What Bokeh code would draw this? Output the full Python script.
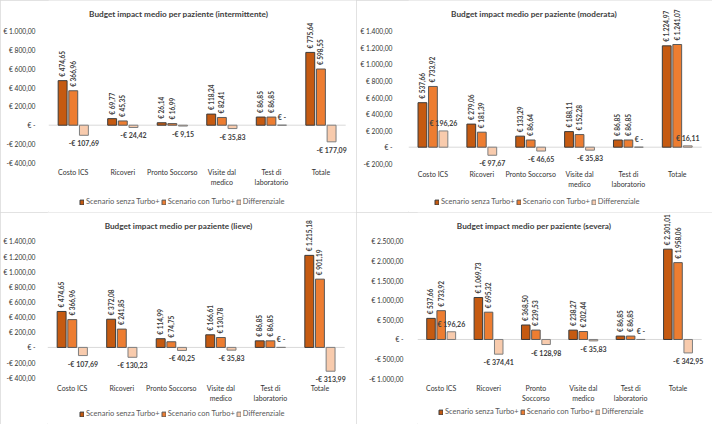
import math
from bokeh.plotting import figure
from bokeh.models import ColumnDataSource, FixedTicker, Range1d, Label, Legend, LegendItem
from bokeh.layouts import column, row
from bokeh.embed import file_html
from bokeh.resources import INLINE
from bokeh.core.properties import value
from bokeh.transform import dodge

# ---------------- data ----------------
categories = ["Costo ICS", "Ricoveri", "Pronto Soccorso", "Visite dal medico",
              "Test di laboratorio", "Totale"]
tick_labels_a = ["Costo ICS", "Ricoveri", "Pronto Soccorso", "Visite dal\nmedico",
                 "Test di\nlaboratorio", "Totale"]
tick_labels_b = ["Costo ICS", "Ricoveri", "Pronto\nSoccorso", "Visite dal\nmedico",
                 "Test di\nlaboratorio", "Totale"]
series_names = ["Scenario senza Turbo+", "Scenario con Turbo+", "Differenziale"]

intermittente_senza = [474.65, 69.77, 26.14, 118.24, 86.85, 775.64]
intermittente_con = [366.96, 45.35, 16.99, 82.41, 86.85, 598.55]
intermittente_diff = [-107.69, -24.42, -9.15, -35.83, 0.0, -177.09]

moderata_senza = [537.66, 279.06, 133.29, 188.11, 86.85, 1224.97]
moderata_con = [733.92, 181.39, 86.64, 152.28, 86.85, 1241.07]
moderata_diff = [196.26, -97.67, -46.65, -35.83, 0.0, 16.11]

lieve_senza = [474.65, 372.08, 114.99, 166.61, 86.85, 1215.18]
lieve_con = [366.96, 241.85, 74.75, 130.78, 86.85, 901.19]
lieve_diff = [-107.69, -130.23, -40.25, -35.83, 0.0, -313.99]

severa_senza = [537.66, 1069.73, 368.50, 238.27, 86.85, 2301.01]
severa_con = [733.92, 695.32, 239.53, 202.44, 86.85, 1958.06]
severa_diff = [196.26, -374.41, -128.98, -35.83, 0.0, -342.95]

titles = ["Budget impact medio per paziente (intermittente)",
          "Budget impact medio per paziente (moderata)",
          "Budget impact medio per paziente (lieve)",
          "Budget impact medio per paziente (severa)"]

# ---------------- style ----------------
COLORS = ["#C55A11", "#ED7D31", "#F8CBAD"]
LINES = ["#3b3b3b", "#5a5a5a", "#7f7f7f"]
FONT = "Lato"
W, H = 356, 212
SX, SY = W / 357.0, H / 213.0
BW, OFF = 0.18, 0.215


def eur(v):
    if abs(v) < 0.005:
        return "€ -"
    s = f"{abs(v):,.2f}".replace(",", "X").replace(".", ",").replace("X", ".")
    return ("-€ " if v < 0 else "€ ") + s


def make_panel(title, senza, con, diff, xlabels, ymin, ymax, ystep,
               ref_left, ref_right, ref_top, ref_bottom, ref_cat, ystand, leg_left, leg_y):
    L = round(ref_left * SX)
    pxcat = (ref_right - ref_left) * SX / 6.0
    top_px = ref_top * SY
    ymin_px = ref_bottom * SY
    pxunit = (ymin_px - top_px) / float(ymax - ymin)
    y_end = ymax + top_px / pxunit
    y_start = y_end - H / pxunit
    x_end = (W - L) / pxcat

    def ypix(py):  # pixel from panel top -> data value
        return y_end - py / pxunit

    p = figure(width=W, height=H, x_range=Range1d(0, x_end), y_range=Range1d(y_start, y_end),
               output_backend="svg", toolbar_location=None,
               min_border_left=L, min_border_right=0, min_border_top=0, min_border_bottom=0)
    p.grid.visible = False
    p.xaxis.visible = False
    p.outline_line_color = None
    p.background_fill_color = "white"
    p.border_fill_color = "white"
    p.styles = {"outline": "1px solid #d9d9d9", "outline-offset": "-1px"}

    ticks = list(range(ymin, ymax + 1, ystep))
    ya = p.yaxis[0]
    ya.ticker = FixedTicker(ticks=ticks)
    ya.major_label_overrides = {t: eur(t) for t in ticks}
    ya.axis_line_color = None
    ya.major_tick_line_color = None
    ya.minor_tick_line_color = None
    ya.major_label_standoff = ystand
    ya.major_label_text_font = FONT
    ya.major_label_text_font_size = "6.7px"
    ya.major_label_text_color = "#333333"

    xs = [i + 0.5 for i in range(len(categories))]
    src = ColumnDataSource(dict(
        x=xs, senza=senza, con=con, diff=diff,
        senza_lbl=[eur(v) for v in senza],
        con_lbl=[eur(v) for v in con],
        diff_up=[eur(v) if v >= 0 else "" for v in diff],
        diff_dn=[eur(v) if v < 0 else "" for v in diff],
        cat=xlabels,
        cat_y=[ypix(ref_cat * SY - 3.8)] * len(xs),
    ))

    # category axis line at zero
    p.segment(x0=[0], x1=[len(categories)], y0=[0], y1=[0], line_color="#d9d9d9", line_width=1)

    rends = []
    for k, (col, off) in enumerate([("senza", -OFF), ("con", 0.0), ("diff", OFF)]):
        r = p.vbar(x=dodge("x", off), top=col, bottom=0, width=BW, source=src,
                   fill_color=COLORS[k], line_color=LINES[k], line_width=1)
        rends.append(r)

    rot = dict(source=src, text_font=value(FONT), text_font_size="6.5px",
               text_font_style="bold", text_color="#404040", angle=math.pi / 2,
               text_align="left", text_baseline="middle", y_offset=-4)
    p.text(x=dodge("x", -OFF), y="senza", text="senza_lbl", **rot)
    p.text(x=dodge("x", 0.0), y="con", text="con_lbl", **rot)
    hor = dict(source=src, text_font=value(FONT), text_font_size="7px",
               text_font_style="bold", text_color="#404040", text_align="center")
    p.text(x=dodge("x", OFF), y="diff", text="diff_up", text_baseline="bottom",
           y_offset=-4, **hor)
    p.text(x=dodge("x", OFF), y="diff", text="diff_dn", text_baseline="top",
           y_offset=4, **hor)

    # category labels
    p.text(x="x", y="cat_y", text="cat", source=src, text_font=value(FONT),
           text_font_size="7px", text_color="#333333", text_align="center",
           text_baseline="top", text_line_height=1.25)

    p.add_layout(Label(x=(178 * SX - L) / pxcat, y=ypix(14 * SY), text=title,
                       text_align="center", text_baseline="middle", text_font=FONT,
                       text_font_size="8.2px", text_font_style="bold", text_color="#404040"))

    items = [LegendItem(label=n, renderers=[r]) for n, r in zip(series_names, rends)]
    leg_bottom = leg_y * SY + 7.5
    legend = Legend(items=items, orientation="horizontal",
                    location=(round(leg_left * SX) - L, round(H - leg_bottom)),
                    glyph_width=5, glyph_height=6, label_standoff=2, spacing=1,
                    padding=0, margin=0, border_line_color=None, background_fill_alpha=0,
                    label_text_font=FONT, label_text_font_size="7.5px",
                    label_text_color="#595959", label_height=8, label_width=0)
    p.add_layout(legend)
    return p


p1 = make_panel(titles[0], intermittente_senza, intermittente_con, intermittente_diff,
                tick_labels_a, -400, 1000, 200, 47, 346, 31, 163, 172, 7, 78, 199)
p2 = make_panel(titles[1], moderata_senza, moderata_con, moderata_diff,
                tick_labels_a, -200, 1400, 200, 52, 346, 31, 164, 174, 10, 78, 199)
p3 = make_panel(titles[2], lieve_senza, lieve_con, lieve_diff,
                tick_labels_a, -400, 1400, 200, 46, 345, 29, 166, 176, 6, 78, 199)
p4 = make_panel(titles[3], severa_senza, severa_con, severa_diff,
                tick_labels_b, -1000, 2500, 500, 61, 346, 29, 167, 176, 8, 82, 197)

layout = column(row(p1, p2, spacing=0), row(p3, p4, spacing=0), spacing=0)
open("out.html", "w").write(file_html(layout, INLINE))
